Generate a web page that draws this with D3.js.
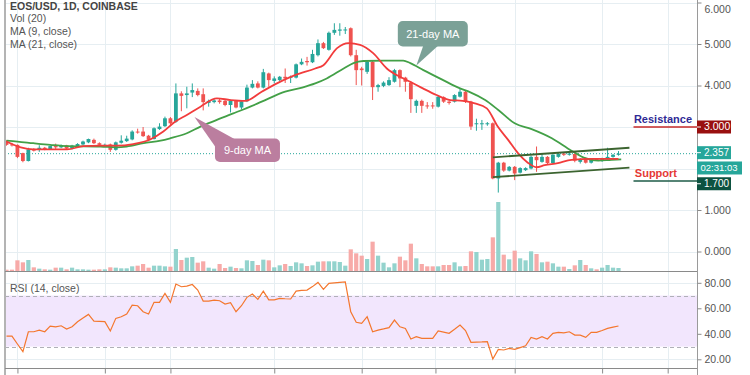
<!DOCTYPE html>
<html><head><meta charset="utf-8">
<script src="https://cdn.jsdelivr.net/npm/d3@7"></script>
<style>
body{margin:0;background:#fff}
svg{display:block}
text{font-family:"Liberation Sans",Arial,sans-serif}
</style>
</head><body>
<svg id="chart" width="750" height="375"></svg>
<script>
// ---------- DATA ----------
const opens=[2.65,2.58,2.57,2.37,2.18,2.47,2.45,2.50,2.46,2.54,2.51,2.56,2.48,2.54,2.58,2.63,2.69,2.61,2.56,2.58,
2.45,2.62,2.66,2.70,2.89,2.89,2.79,2.71,2.95,3.02,3.21,3.13,3.81,3.77,3.83,3.87,3.79,3.58,3.60,3.64,
3.63,3.53,3.63,3.47,3.62,3.95,4.05,3.95,4.29,4.11,4.13,4.21,4.19,4.19,4.51,4.59,4.56,4.73,5.02,4.86,
5.27,5.32,5.33,5.38,4.73,4.41,4.33,4.57,3.96,3.99,4.01,4.09,4.37,4.19,4.07,3.51,3.63,3.52,3.52,3.49,
3.72,3.61,3.61,3.73,3.85,3.61,3.07,3.07,3.07,3.09,1.76,2.14,1.95,2.04,1.90,1.96,2.00,2.28,2.16,2.28,
2.13,2.28,2.36,2.33,2.35,2.16,2.24,2.14,2.23,2.18,2.24,2.28,2.33];
const highs=[2.68,2.62,2.58,2.38,2.50,2.49,2.56,2.52,2.55,2.60,2.58,2.57,2.57,2.61,2.67,2.72,2.72,2.63,2.60,2.60,
2.65,2.80,2.79,2.92,2.96,3.00,2.81,2.99,3.09,3.25,3.24,4.05,3.86,3.97,4.05,3.93,3.93,3.66,3.67,3.68,
3.65,3.66,3.65,3.64,4.02,4.13,4.10,4.40,4.31,4.22,4.23,4.41,4.24,4.53,4.65,4.69,4.86,5.11,5.05,5.30,
5.50,5.50,5.41,5.40,4.86,4.45,4.60,4.60,4.04,4.10,4.20,4.40,4.39,4.21,4.10,3.66,3.66,3.60,3.60,3.76,
3.74,3.64,3.79,3.92,3.87,3.63,3.20,3.17,3.12,3.11,2.16,2.16,2.06,2.06,2.03,2.03,2.31,2.53,2.35,2.30,
2.36,2.38,2.38,2.38,2.37,2.25,2.27,2.25,2.25,2.26,2.50,2.35,2.42];
const lows=[2.55,2.53,2.25,2.15,2.17,2.41,2.40,2.44,2.45,2.47,2.49,2.46,2.46,2.52,2.56,2.61,2.59,2.55,2.54,2.40,
2.43,2.60,2.64,2.68,2.84,2.76,2.66,2.70,2.93,3.00,3.05,3.10,3.38,3.45,3.72,3.74,3.40,3.49,3.57,3.56,
3.50,3.35,3.45,3.42,3.60,3.93,3.93,3.93,3.97,4.05,4.10,4.06,4.06,4.17,4.49,4.48,4.54,4.70,4.88,4.84,
5.22,5.20,5.24,4.70,4.01,4.00,4.28,3.65,3.85,3.96,3.99,4.07,3.96,3.85,3.34,3.34,3.34,3.44,3.44,3.47,
3.58,3.54,3.59,3.71,3.58,2.93,2.91,2.93,3.03,1.74,1.42,1.92,1.93,1.72,1.88,1.94,1.98,1.92,2.14,2.10,
2.11,2.26,2.30,2.31,2.15,2.12,2.12,2.12,2.18,2.16,2.22,2.26,2.31];
const closes=[2.57,2.56,2.28,2.18,2.46,2.43,2.50,2.46,2.54,2.51,2.56,2.48,2.55,2.59,2.65,2.71,2.61,2.57,2.57,2.45,
2.63,2.67,2.72,2.89,2.87,2.78,2.69,2.97,3.01,3.21,3.09,3.81,3.75,3.81,3.89,3.77,3.60,3.63,3.64,3.60,
3.53,3.63,3.47,3.62,3.95,4.04,3.95,4.32,4.13,4.17,4.21,4.17,4.21,4.51,4.57,4.56,4.76,5.02,4.90,5.27,
5.34,5.35,5.35,4.73,4.37,4.37,4.57,3.96,4.01,4.07,4.13,4.37,4.17,4.09,3.67,3.63,3.51,3.50,3.50,3.73,
3.61,3.58,3.77,3.85,3.61,3.01,3.09,3.09,3.09,1.76,2.14,1.95,2.04,1.88,2.01,2.01,2.28,2.20,2.28,2.13,
2.33,2.35,2.33,2.36,2.19,2.23,2.14,2.23,2.20,2.24,2.28,2.33,2.357];
const volumes=[4,4,32,26,33,11,7,5,4,10,10,5,10,5,5,4,4,5,5,11,
10,8,8,14,16,21,10,16,16,14,13,66,33,40,42,25,29,10,7,21,
9,13,9,8,32,30,18,34,32,11,17,21,15,26,23,15,17,28,29,29,
29,27,16,65,53,46,36,88,46,25,11,23,43,32,82,38,21,14,14,14,
18,18,26,14,15,59,57,34,36,101,207,49,35,61,38,32,59,51,26,28,
23,13,13,6,17,33,18,8,5,10,18,10,9];
const rsi=[38.2,38.2,32,26,41.6,41.6,42.9,41.6,46,45.5,46.3,43.7,45.5,49.5,52.4,55.2,50,49.8,49.5,42.2,
52.1,53.4,55.5,62.5,62,57.3,55.5,64.7,64.7,71.7,64.7,79,76.9,77.4,78.7,74.3,65.7,65.7,66.4,65.9,
63.3,64.4,57.3,62,68.6,71.2,67,73.5,66.6,66.6,67.8,67.5,67.3,73.5,74,74.3,77,80.3,74.8,79.5,
80,80.4,80.8,57.3,49,48.2,53.4,41.6,42.9,43.8,44.8,50.8,45.5,44.2,35.9,37.7,36.4,36.4,36.4,42.2,
41.3,40.4,43.5,46.9,42.5,33.3,33.5,33.6,33.8,20.2,27.8,27.3,28.6,27.8,29.2,30.6,37.2,35.9,37.7,35.9,
40.4,41.1,40.8,41.6,39,39,37.2,41.1,41.1,42.6,44.3,45.2,46.1];
// moving averages: [candle index, value]
const ma9=[[0,2.65],[2.6,2.51],[4.9,2.46],[8,2.46],[11.1,2.46],[14.1,2.54],[17.2,2.55],[20.2,2.55],[23.2,2.59],[26.3,2.70],
[28.7,2.89],[30.9,3.13],[33,3.29],[35.5,3.49],[38.5,3.69],[41,3.65],[43.7,3.63],[46.7,3.85],[50.4,4.11],[52.8,4.25],
[56.5,4.41],[58,4.49],[60.5,4.90],[62.6,5.02],[64.7,4.98],[67.1,4.78],[69.6,4.41],[72,4.21],[73.9,4.09],[76.2,3.93],
[78.7,3.77],[81.2,3.65],[83.5,3.63],[85.7,3.57],[87.9,3.45],[89.9,3.01],[91.8,2.69],[93.6,2.37],[95.4,2.14],[97,2.03],
[98.5,2.08],[100.9,2.13],[103.4,2.21],[107.1,2.23],[109.5,2.23],[112,2.23]];
const ma21=[[0,2.67],[2,2.65],[4.9,2.61],[8,2.57],[11.1,2.54],[17.2,2.53],[20.2,2.51],[22,2.53],[25.1,2.61],[28.2,2.67],
[30,2.73],[33,2.85],[35.5,3.01],[38.5,3.17],[41.5,3.33],[43.1,3.41],[44.6,3.49],[46.7,3.61],[51,3.85],[54.1,3.95],
[56.5,4.05],[58.6,4.17],[61.7,4.41],[63.5,4.54],[65.3,4.59],[69,4.60],[72.6,4.60],[73.9,4.54],[76.3,4.37],[79.9,4.13],
[83,3.93],[84.8,3.84],[87.6,3.65],[90,3.41],[93,3.09],[96.1,2.95],[99.8,2.73],[103.4,2.43],[105.9,2.25],[108.3,2.19],
[110.7,2.21],[112.5,2.22]];
const channelUpper=[[89,2.27],[114,2.50]];
const channelLower=[[89,1.79],[114,2.02]];
const priceTicks=[0,1,2,3,4,5,6];
const rsiTicks=[20,40,60,80];
const rsiBand=[30,70];
const timeGrid=[2,18,30,49,65,78.5,93,109,121];
const resistance=3.0, support=1.7, lastPrice=2.357, countdown="02:31:03";
const legendLines=["EOS/USD, 1D, COINBASE","Vol (20)","MA (9, close)","MA (21, close)"];
const callout21={label:"21-day MA",idx:75,price:4.48};
const callout9={label:"9-day MA",idx:34.4,price:3.24};

// ---------- CHART ----------
const svg=d3.select("#chart");
const L=5,R=697,MAIN_T=0,MAIN_B=271,RSI_B=368;
const UP="#26a69a",DN="#ef5350";
const n=closes.length;
const x=d3.scaleLinear().domain([0,n-1]).range([6.5,618.5]);
const y=d3.scaleLinear().domain([0,6]).range([251.5,2.5]);
const yv=d3.scaleLinear().domain([0,d3.max(volumes)]).range([MAIN_B,202]);
const yr=d3.scaleLinear().domain([20,80]).range([359.3,282.8]);

const defs=svg.append("defs");
defs.append("clipPath").attr("id","cm").append("rect").attr("x",L).attr("y",MAIN_T).attr("width",R-L).attr("height",MAIN_B-MAIN_T);
defs.append("clipPath").attr("id","cr").append("rect").attr("x",L).attr("y",MAIN_B).attr("width",R-L).attr("height",RSI_B-MAIN_B);

// grid
const grid=svg.append("g").attr("stroke","#e6eef2").attr("stroke-width",1);
grid.selectAll(".vg").data(timeGrid).join("line").attr("x1",d=>Math.round(x(d))+0.5).attr("x2",d=>Math.round(x(d))+0.5).attr("y1",0).attr("y2",RSI_B);
grid.selectAll(".hg").data(priceTicks).join("line").attr("x1",L).attr("x2",R).attr("y1",d=>Math.round(y(d))+0.5).attr("y2",d=>Math.round(y(d))+0.5);
grid.selectAll(".rg").data(rsiTicks).join("line").attr("x1",L).attr("x2",R).attr("y1",d=>Math.round(yr(d))+0.5).attr("y2",d=>Math.round(yr(d))+0.5);

// RSI band
svg.append("rect").attr("x",L).attr("width",R-L).attr("y",yr(rsiBand[1])).attr("height",yr(rsiBand[0])-yr(rsiBand[1])).attr("fill","#f2e6fd");
svg.selectAll(".rb").data(rsiBand).join("line").attr("x1",L).attr("x2",R).attr("y1",d=>Math.round(yr(d))+0.5).attr("y2",d=>Math.round(yr(d))+0.5)
  .attr("stroke","#b0b0b8").attr("stroke-dasharray","4,3");

const main=svg.append("g").attr("clip-path","url(#cm)");
// volume
main.selectAll(".vol").data(volumes).join("rect")
  .attr("x",(d,i)=>x(i)-2.1).attr("width",4.2)
  .attr("y",d=>yv(d)).attr("height",d=>MAIN_B-yv(d))
  .attr("fill",(d,i)=>closes[i]>=opens[i]?"#93d3cd":"#f7aaa8");

// last price dotted line
main.append("line").attr("x1",L).attr("x2",R).attr("y1",y(lastPrice)).attr("y2",y(lastPrice))
  .attr("stroke",UP).attr("stroke-width",1).attr("stroke-dasharray","1,2");

// candles
const cg=main.append("g");
const idx=d3.range(n);
cg.selectAll(".wick").data(idx).join("line")
  .attr("x1",i=>x(i)).attr("x2",i=>x(i)).attr("y1",i=>y(highs[i])).attr("y2",i=>y(lows[i]))
  .attr("stroke",i=>closes[i]>=opens[i]?UP:DN).attr("stroke-width",1);
cg.selectAll(".body").data(idx).join("rect")
  .attr("x",i=>x(i)-1.9).attr("width",3.8)
  .attr("y",i=>y(Math.max(opens[i],closes[i])))
  .attr("height",i=>Math.max(1,Math.abs(y(opens[i])-y(closes[i]))))
  .attr("fill",i=>closes[i]>=opens[i]?UP:DN);

// MA lines
const line=d3.line().x(d=>x(d[0])).y(d=>y(d[1])).curve(d3.curveMonotoneX);
main.append("path").datum(ma21).attr("d",line).attr("fill","none").attr("stroke","#43a047").attr("stroke-width",1.8);
main.append("path").datum(ma9).attr("d",line).attr("fill","none").attr("stroke","#f23c3c").attr("stroke-width",1.8);

// channel
const lin=d3.line().x(d=>x(d[0])).y(d=>y(d[1]));
[channelUpper,channelLower].forEach(c=>main.append("path").datum(c).attr("d",lin).attr("stroke","#3c6430").attr("stroke-width",1.8).attr("fill","none"));

// resistance / support
main.append("line").attr("x1",x(n-1)+15).attr("x2",R).attr("y1",y(resistance)).attr("y2",y(resistance)).attr("stroke","#c62828").attr("stroke-width",1.6);
main.append("line").attr("x1",x(n-1)+15).attr("x2",R).attr("y1",y(support)).attr("y2",y(support)).attr("stroke","#1e5b47").attr("stroke-width",1.6);
svg.append("text").attr("x",692).attr("y",y(resistance)-4).attr("text-anchor","end").attr("font-size",11).attr("font-weight","bold").attr("fill","#2f2a95").text("Resistance");
svg.append("text").attr("x",677).attr("y",y(support)-4).attr("text-anchor","end").attr("font-size",11).attr("font-weight","bold").attr("fill","#e53935").text("Support");

// RSI line
svg.append("g").attr("clip-path","url(#cr)").append("path").datum(rsi)
  .attr("d",d3.line().x((d,i)=>x(i)).y(d=>yr(d))).attr("fill","none").attr("stroke","#f4772e").attr("stroke-width",1.2);

// callouts
function callout(c,fill,box,base){
  const tx=x(c.idx),ty=y(c.price);
  const g=svg.append("g");
  g.append("path").attr("d",`M${tx+base[0][0]},${ty+base[0][1]}L${tx},${ty}L${tx+base[1][0]},${ty+base[1][1]}Z`).attr("fill",fill);
  g.append("rect").attr("x",tx+box[0]).attr("y",ty+box[1]).attr("width",box[2]).attr("height",box[3]).attr("rx",5).attr("fill",fill);
  g.append("text").attr("x",tx+box[0]+box[2]/2).attr("y",ty+box[1]+box[3]/2+4).attr("text-anchor","middle")
    .attr("font-size",11).attr("fill","#fff").attr("font-family","DejaVu Sans").text(c.label);
}
callout(callout21,"#7ba197",[-18.5,-44.6,70,25.5],[[7,-20],[22,-20]]);
callout(callout9,"#bb7e9f",[20.5,21.5,65,23.5],[[21,30],[40,22]]);

// frame lines
svg.append("line").attr("x1",L).attr("x2",L).attr("y1",0).attr("y2",375).attr("stroke","#b4b4b4").attr("stroke-width",2);
svg.append("line").attr("x1",R+0.5).attr("x2",R+0.5).attr("y1",0).attr("y2",375).attr("stroke","#9a9a9a");
svg.append("line").attr("x1",L).attr("x2",R).attr("y1",MAIN_B+0.5).attr("y2",MAIN_B+0.5).attr("stroke","#8a8a8a");
svg.append("line").attr("x1",L).attr("x2",R).attr("y1",RSI_B+0.5).attr("y2",RSI_B+0.5).attr("stroke","#8a8a8a");

// axes
function styleAxis(g){
  g.select(".domain").remove();
  g.selectAll(".tick line").attr("stroke","#8a8a8a");
  g.selectAll(".tick text").attr("fill","#555").attr("font-size",10.5).attr("font-family","Liberation Sans, Arial, sans-serif");
}
const tagCenters=[y(lastPrice),y(lastPrice)+14.3,y(support)];
const pAxis=svg.append("g").attr("transform",`translate(${R+0.5},0)`).call(d3.axisRight(y).tickValues(priceTicks).tickFormat(d3.format(".3f")).tickSize(4).tickPadding(3)).call(styleAxis);
// labels hidden under the price tags (as in the reference)
pAxis.selectAll(".tick").filter(d=>tagCenters.some(c=>Math.abs(y(d)-c)<8)).select("text").remove();
// keep the top label inside the picture
pAxis.selectAll(".tick").filter(d=>y(d)<6).select("text").attr("dy","0.95em");
svg.append("g").attr("transform",`translate(${R+0.5},0)`).call(d3.axisRight(yr).tickValues(rsiTicks).tickFormat(d3.format(".2f")).tickSize(4).tickPadding(3)).call(styleAxis);
svg.append("g").attr("transform",`translate(0,${RSI_B+0.5})`).call(d3.axisBottom(x).tickValues(timeGrid).tickFormat("").tickSize(5)).call(styleAxis);

// price labels
function tag(fill,txt,yc,w,fs,tx){
  const g=svg.append("g");
  g.append("rect").attr("x",R).attr("y",yc-6.5).attr("width",w).attr("height",13).attr("fill",fill);
  if(tx>5) g.append("line").attr("x1",R).attr("x2",R+4).attr("y1",yc).attr("y2",yc).attr("stroke","#fff");
  g.append("text").attr("x",R+tx).attr("y",yc+3.4).attr("font-size",fs).attr("fill","#fff").text(txt);
}
tag("#990f0f",d3.format(".3f")(resistance),y(resistance),34,10.5,7);
tag("#26a69a",d3.format(".3f")(lastPrice),y(lastPrice)-1,34,10,7);
tag("#26a69a",countdown,y(lastPrice)+14.3,45,9.5,3.5);
tag("#0d5240",d3.format(".3f")(support),y(support)+2.8,34,10,7);

// legend
const lg=svg.append("g").attr("font-size",10.5).attr("fill","#555");
lg.selectAll("text").data(legendLines).join("text").attr("x",10).attr("y",(d,i)=>[9.5,21.5,35,47.5][i])
  .attr("font-weight",(d,i)=>i===0?"bold":"normal").attr("fill",(d,i)=>i===0?"#444":"#555").text(d=>d);
svg.append("text").attr("x",10).attr("y",292).attr("font-size",10.5).attr("fill","#555").text("RSI (14, close)");
</script>
</body></html>
